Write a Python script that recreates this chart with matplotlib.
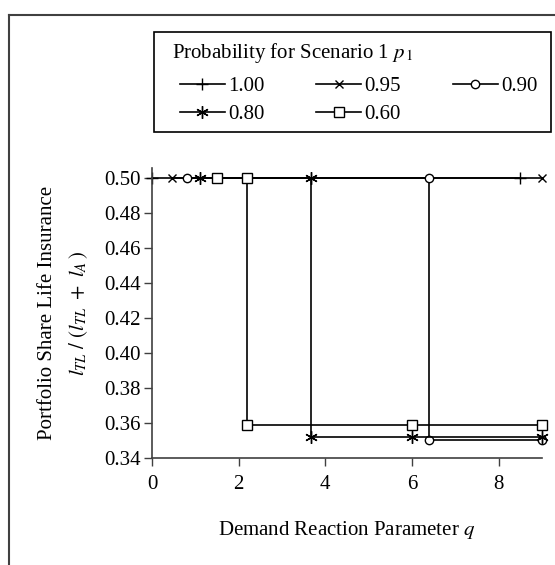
import matplotlib
matplotlib.use("Agg")
import matplotlib.pyplot as plt
from matplotlib.lines import Line2D
from matplotlib.patches import Rectangle

plt.rcParams['font.family'] = ['Liberation Serif', 'DejaVu Serif']
plt.rcParams['mathtext.fontset'] = 'stix'

# Portfolio share l_TL / (l_TL + l_A) against demand reaction parameter q
q_100 = [0.0, 8.5]
s_100 = [0.5, 0.5]
q_095 = [0.45, 9.0]
s_095 = [0.5, 0.5]
q_090 = [0.8, 6.4, 6.4, 9.0]
s_090 = [0.5, 0.5, 0.350, 0.350]
q_080 = [1.1, 3.67, 3.67, 6.0, 9.0]
s_080 = [0.5, 0.5, 0.352, 0.352, 0.352]
q_060 = [1.5, 2.2, 2.2, 6.0, 9.0]
s_060 = [0.5, 0.5, 0.359, 0.359, 0.359]

x_ticks = [0, 2, 4, 6, 8]
y_ticks = [0.34, 0.36, 0.38, 0.40, 0.42, 0.44, 0.46, 0.48, 0.50]

W, H = 555, 565
fig = plt.figure(figsize=(W / 100, H / 100), dpi=100)
ax = fig.add_axes([152 / W, 1 - 458 / H, (542 - 152) / W, (458 - 168) / H])

fs = 15
lw = 1.2
l1, = ax.plot(q_100, s_100, color='black', lw=lw, marker='+', ms=8, mew=1.0, label='1.00')
l2, = ax.plot(q_095, s_095, color='black', lw=lw, marker='x', ms=5.5, mew=1.0, label='0.95')
l3, = ax.plot(q_090, s_090, color='black', lw=lw, marker='o', ms=6, mfc='white', mew=1.0, label='0.90')
l4, = ax.plot(q_080, s_080, color='black', lw=lw, marker=(6, 2, 0), ms=9, mew=1.0, label='0.80')
l5, = ax.plot(q_060, s_060, color='black', lw=lw, marker='s', ms=6.5, mfc='white', mew=1.0, label='0.60')
for ln in (l1, l2, l3, l4, l5):
    ln.set_clip_on(False)

ax.set_xlim(0, 9)
ax.set_ylim(0.34, 0.5057)
ax.set_xticks(x_ticks)
ax.set_yticks(y_ticks)
ax.set_yticklabels([f"{v:.2f}" for v in y_ticks])
for s in ['top', 'right']:
    ax.spines[s].set_visible(False)
for s in ['left', 'bottom']:
    ax.spines[s].set_color('#404040')
    ax.spines[s].set_linewidth(1.2)
ax.tick_params(axis='both', labelsize=fs, color='#404040', width=1.0, length=6)
ax.tick_params(axis='y', pad=2)
ax.tick_params(axis='x', pad=6)

ax.set_xlabel('Demand Reaction Parameter $q$', fontsize=fs, labelpad=18)
fig.text(48 / W, 1 - 313 / H, 'Portfolio Share Life Insurance', rotation=90,
         ha='center', va='center', fontsize=fs)
fig.text(79 / W, 1 - 313 / H, r'$l_{TL}\ /\ (l_{TL}\ +\ l_{A}\,)$', rotation=90,
         ha='center', va='center', fontsize=fs)

# legend box, title and entries
fig.add_artist(Rectangle((154 / W, 1 - 132 / H), (551 - 154) / W, 100 / H,
                         transform=fig.transFigure, fill=False,
                         edgecolor='black', lw=1.2))
fig.text(172 / W, 1 - 53 / H, r'Probability for Scenario 1 $p_{\,1}$',
         ha='left', va='center', fontsize=fs)
handles = [l1, l4, l2, l5, l3]
fig.legend(handles, [h.get_label() for h in handles], ncol=3,
           loc='center left', bbox_to_anchor=(180 / W, 1 - 100.5 / H),
           fontsize=fs, frameon=False, handlelength=2.15, handletextpad=0.15,
           columnspacing=2.5, borderpad=0, borderaxespad=0, labelspacing=0.41)

# outer frame (left and top edges visible)
fig.add_artist(Line2D([9 / W, 9 / W], [0, 1 - 15 / H], color='#404040', lw=1.5))
fig.add_artist(Line2D([9 / W, 1], [1 - 15 / H, 1 - 15 / H], color='#404040', lw=1.5))

fig.savefig('out.png', dpi=100)
